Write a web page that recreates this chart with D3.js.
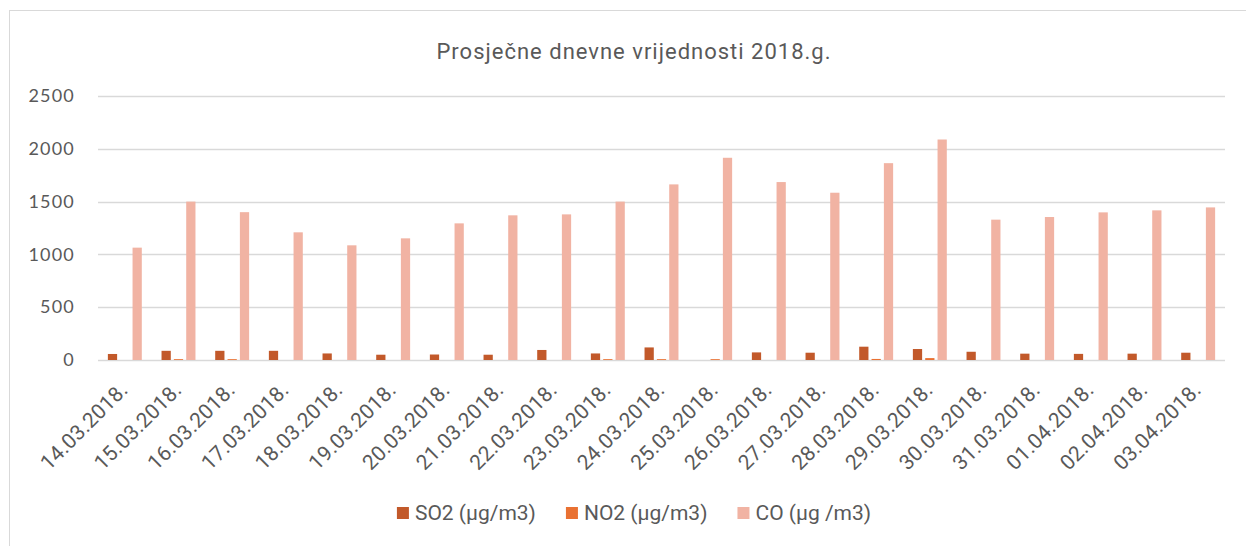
<!DOCTYPE html>
<html>
<head>
<meta charset="utf-8">
<script src="https://cdn.jsdelivr.net/npm/d3@7"></script>
<style>
	body { margin: 0; background: #fff; }
	svg { display: block; }
	text { font-family: Roboto, "Noto Sans", sans-serif; fill: #595959; }
</style>
</head>
<body>
<svg id="chart"></svg>
<script>

// categories and series
const dates = ["14.03.2018.", "15.03.2018.", "16.03.2018.", "17.03.2018.", "18.03.2018.", "19.03.2018.",
	"20.03.2018.", "21.03.2018.", "22.03.2018.", "23.03.2018.", "24.03.2018.", "25.03.2018.",
	"26.03.2018.", "27.03.2018.", "28.03.2018.", "29.03.2018.", "30.03.2018.", "31.03.2018.",
	"01.04.2018.", "02.04.2018.", "03.04.2018."];
const so2 = [57, 87, 87, 87, 62, 50, 52, 50, 95, 62, 119, 0, 72, 69, 126, 104, 78, 60, 58, 60, 69];
const no2 = [0, 8, 8, 0, 0, 0, 0, 0, 0, 8, 8, 8, 0, 0, 10, 18, 0, 0, 0, 0, 0];
const co = [1064, 1500, 1400, 1209, 1086, 1152, 1294, 1370, 1379, 1500, 1663, 1915, 1685, 1584, 1864, 2088, 1329, 1354, 1398, 1417, 1445];
const seriesNames = ["SO2 (µg/m3)", "NO2 (µg/m3)", "CO (µg /m3)"];
const yTicks = [0, 500, 1000, 1500, 2000, 2500];
const titleText = "Prosječne dnevne vrijednosti 2018.g.";

const width = 1246;
const height = 546;
const colors = ["#c2592a", "#e97132", "#f1b3a3"];
const series = [so2, no2, co];

let svg = d3.select("#chart").attr("width", width).attr("height", height);

// chart frame, runs off the right and bottom edges
svg.append("rect").attr("x", 9.5).attr("y", 10.5).attr("width", 1400).attr("height", 700)
	.attr("fill", "none").attr("stroke", "#d9d9d9").attr("stroke-width", 1);

let x0 = d3.scaleBand().domain(dates).range([98, 1225]);
let x1 = d3.scaleBand().domain(d3.range(series.length)).range([0, x0.bandwidth()])
	.paddingInner(0.25).paddingOuter(0.8);
let y = d3.scaleLinear().domain([0, 2500]).range([360, 96]);

// gridlines
svg.append("g").selectAll("line").data(yTicks).enter().append("line")
	.attr("x1", 98).attr("x2", 1225)
	.attr("y1", d => Math.round(y(d)) + 0.5).attr("y2", d => Math.round(y(d)) + 0.5)
	.attr("stroke", "#d9d9d9").attr("stroke-width", 1.3);

// y axis labels
let yAxis = svg.append("g").attr("transform", "translate(75,0)")
	.call(d3.axisLeft(y).tickValues(yTicks).tickFormat(d3.format("d")).tickSize(0).tickPadding(0));
yAxis.select(".domain").remove();
yAxis.selectAll("text").style("font-family", "Lato, sans-serif").style("font-size", "18px")
	.style("letter-spacing", "1.2px").attr("fill", "#595959");

// bars
let groups = svg.append("g").selectAll("g").data(dates).enter().append("g")
	.attr("transform", d => "translate(" + x0(d) + ",0)");

groups.selectAll("rect").data((d, i) => series.map((s, k) => ({ k: k, v: s[i] })))
	.enter().append("rect")
	.attr("x", d => x1(d.k))
	.attr("width", x1.bandwidth())
	.attr("y", d => y(d.v))
	.attr("height", d => y(0) - y(d.v))
	.attr("fill", d => colors[d.k]);

// x axis labels, rotated
let xAxis = svg.append("g").attr("transform", "translate(0,360)")
	.call(d3.axisBottom(x0).tickSize(0).tickPadding(0));
xAxis.select(".domain").remove();
xAxis.selectAll("text")
	.style("font-size", "21px")
	.style("letter-spacing", "0.2px")
	.attr("fill", "#595959")
	.attr("text-anchor", "end")
	.attr("y", 0).attr("dy", "0.35em")
	.attr("transform", "translate(-1,26) rotate(-45)");

// title
svg.append("text").attr("x", 634).attr("y", 59).attr("text-anchor", "middle")
	.style("font-size", "22px").style("letter-spacing", "1px").text(titleText);

// legend, centred under the chart
let legend = svg.append("g");
let lx = 0;
seriesNames.forEach((name, k) => {
	let item = legend.append("g").attr("transform", "translate(" + lx + ",0)");
	item.append("rect").attr("x", 0).attr("y", 507).attr("width", 12).attr("height", 12).attr("fill", colors[k]);
	let t = item.append("text").attr("x", 18).attr("y", 520).style("font-size", "21px").text(name);
	lx += 18 + t.node().getComputedTextLength() + 30;
});
let legendWidth = lx - 30;
legend.attr("transform", "translate(" + (634 - legendWidth / 2) + ",0)");

</script>
</body>
</html>
